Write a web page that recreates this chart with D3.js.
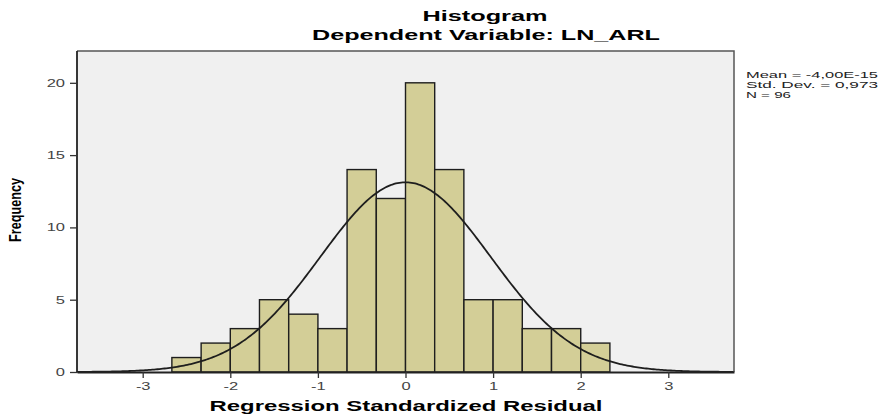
<!DOCTYPE html>
<html>
<head>
<meta charset="utf-8">
<script src="https://cdn.jsdelivr.net/npm/d3@7"></script>
<style>
body { margin: 0; background: #fff; }
svg { display: block; }
text { font-family: "Liberation Sans", Arial, sans-serif; }
</style>
</head>
<body>
<svg id="canvas" width="882" height="416"></svg>
<script>
// histogram bins (lower edge of each bin, bin width 1/3) and their counts
var binLow = [-2.667, -2.333, -2.0, -1.667, -1.333, -1.0, -0.667, -0.333, 0.0, 0.333, 0.667, 1.0, 1.333, 1.667, 2.0];
var binWidth = 1 / 3;
var counts = [1, 2, 3, 5, 4, 3, 14, 12, 20, 14, 5, 5, 3, 3, 2];

// fitted normal stats (as printed in the legend)
var mean = -4.00e-15;
var stdDev = 0.973;
var n = 96;
var legendLines = ["Mean = -4,00E-15", "Std. Dev. = 0,973", "N = 96"];

var xTicks = [-3, -2, -1, 0, 1, 2, 3];
var yTicks = [0, 5, 10, 15, 20];

drawChart();

function drawChart() {
    var svg = d3.select("#canvas");
    var pLeft = 77, pRight = 734, pTop = 51, pBottom = 372;

    var x = d3.scaleLinear().domain([-3.75, 3.75]).range([pLeft, pRight]);
    var y = d3.scaleLinear().domain([0, 22.2]).range([pBottom, pTop]);

    // plot background
    svg.append("rect")
        .attr("x", pLeft).attr("y", pTop)
        .attr("width", pRight - pLeft).attr("height", pBottom - pTop)
        .attr("fill", "#f0f0f0");

    // bars
    svg.append("g").selectAll("rect")
        .data(counts)
        .enter().append("rect")
        .attr("x", function (d, i) { return x(binLow[i]); })
        .attr("y", function (d) { return y(d); })
        .attr("width", function (d, i) { return x(binLow[i] + binWidth) - x(binLow[i]); })
        .attr("height", function (d) { return pBottom - y(d); })
        .attr("fill", "#d3ce97")
        .attr("stroke", "#1e1e1e")
        .attr("stroke-width", 1.4);

    // normal curve
    var pts = [];
    for (var v = -3.75; v <= 3.75001; v += 0.02) {
        var z = (v - mean) / stdDev;
        pts.push([v, n * binWidth * Math.exp(-0.5 * z * z) / (stdDev * Math.sqrt(2 * Math.PI))]);
    }
    svg.append("path")
        .datum(pts)
        .attr("fill", "none")
        .attr("stroke", "#1e1e1e")
        .attr("stroke-width", 1.8)
        .attr("d", d3.line().x(function (d) { return x(d[0]); }).y(function (d) { return y(d[1]); }));

    // top / right frame
    svg.append("path")
        .attr("d", "M" + pLeft + "," + pTop + "H" + pRight + "V" + pBottom)
        .attr("fill", "none")
        .attr("stroke", "#555")
        .attr("stroke-width", 1.5);

    // axes
    var plain = function (d) { return String(d); };
    var yAxis = svg.append("g")
        .attr("transform", "translate(" + pLeft + ",0)")
        .call(d3.axisLeft(y).tickValues(yTicks).tickFormat(plain).tickSize(7).tickSizeOuter(0).tickPadding(5));
    var xAxis = svg.append("g")
        .attr("transform", "translate(0," + pBottom + ")")
        .call(d3.axisBottom(x).tickValues(xTicks).tickFormat(plain).tickSize(6).tickSizeOuter(0).tickPadding(4));

    [yAxis, xAxis].forEach(function (a) {
        a.select(".domain").attr("stroke", "#222").attr("stroke-width", 1.8);
        a.selectAll(".tick line").attr("stroke", "#333").attr("stroke-width", 1.3);
        a.selectAll(".tick text")
            .attr("fill", "#444")
            .style("font-size", "11px")
            .style("font-family", "'Liberation Sans', Arial, sans-serif");
        stretch(a.selectAll(".tick text"), 1.5);
    });
    yAxis.select(".domain").attr("d", "M0," + pTop + "V" + pBottom);

    // titles
    fit(svg.append("text")
        .attr("x", 485).attr("y", 21)
        .attr("text-anchor", "middle")
        .style("font-size", "15px").style("font-weight", "bold")
        .text("Histogram"), 125);

    fit(svg.append("text")
        .attr("x", 486).attr("y", 40)
        .attr("text-anchor", "middle")
        .style("font-size", "15px").style("font-weight", "bold")
        .text("Dependent Variable: LN_ARL"), 348);

    fit(svg.append("text")
        .attr("x", 406).attr("y", 411)
        .attr("text-anchor", "middle")
        .style("font-size", "14px").style("font-weight", "bold")
        .text("Regression Standardized Residual"), 393);

    fit(svg.append("text")
        .attr("transform", "translate(21,210) rotate(-90)")
        .attr("text-anchor", "middle")
        .style("font-family", "'Liberation Sans Narrow', 'Arial Narrow', 'Liberation Sans', sans-serif")
        .style("font-size", "16px").style("font-weight", "bold")
        .text("Frequency"), 64);

    // legend
    var legendW = [132, 132, 45];
    svg.append("g").selectAll("text")
        .data(legendLines)
        .enter().append("text")
        .attr("x", 746)
        .attr("y", function (d, i) { return 78 + i * 10; })
        .style("font-size", "9.5px")
        .attr("fill", "#222")
        .text(function (d) { return d; })
        .each(function (d, i) { fit(d3.select(this), legendW[i]); });
}

// stretch text to a given width (the picture is wide-squashed)
function fit(sel, w) {
    sel.attr("textLength", w).attr("lengthAdjust", "spacingAndGlyphs");
}
function stretch(sel, k) {
    sel.each(function () {
        var w = this.getComputedTextLength();
        d3.select(this).attr("textLength", w * k).attr("lengthAdjust", "spacingAndGlyphs");
    });
}
</script>
</body>
</html>
